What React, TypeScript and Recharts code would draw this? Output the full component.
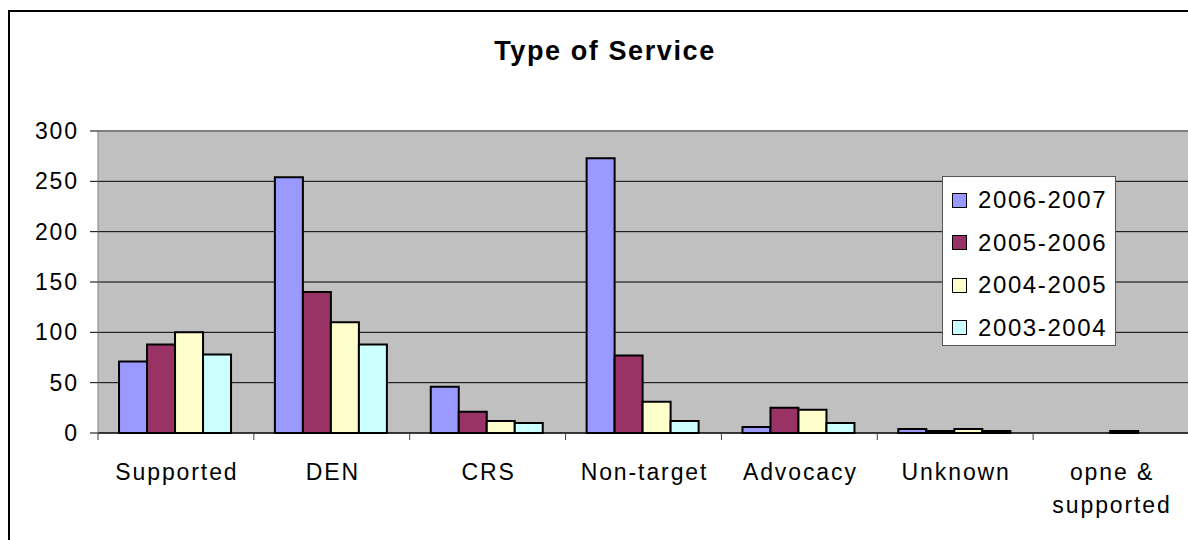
import React from "react";
import {
  BarChart,
  Bar,
  XAxis,
  YAxis,
  CartesianGrid,
  ReferenceLine,
} from "recharts";

const categories = ["Supported", "DEN", "CRS", "Non-target", "Advocacy", "Unknown", "opne & supported"];
const s2006 = [71, 254, 46, 273, 6, 4, 0];
const s2005 = [88, 140, 21, 77, 25, 2, 0];
const s2004 = [100, 110, 12, 31, 23, 4, 2];
const s2003 = [78, 88, 10, 12, 10, 2, 0];
const yTicks = [0, 50, 100, 150, 200, 250, 300];

const series = [
  { key: "y2006", name: "2006-2007", values: s2006, color: "#9999FF" },
  { key: "y2005", name: "2005-2006", values: s2005, color: "#993366" },
  { key: "y2004", name: "2004-2005", values: s2004, color: "#FFFFCC" },
  { key: "y2003", name: "2003-2004", values: s2003, color: "#CCFFFF" },
];

const data = categories.map((name, i) => {
  const row: Record<string, string | number> = { name };
  series.forEach((s) => (row[s.key] = s.values[i]));
  return row;
});

const FONT = "'Liberation Sans', Arial, sans-serif";
const LABEL_GAP = 31;

// label plus a tick mark on each category edge (Excel style)
function CategoryTick({ x, y, payload, index }: any) {
  const words = String(payload.value).split(" ");
  const lines: string[] = [];
  let cur = "";
  words.forEach((w) => {
    const next = cur ? cur + " " + w : w;
    if (next.length > 12 && cur) {
      lines.push(cur);
      cur = w;
    } else cur = next;
  });
  if (cur) lines.push(cur);
  const half = payload.offset || 0;
  const axisY = y - LABEL_GAP;
  return (
    <g>
      <line x1={x - half} x2={x - half} y1={axisY} y2={axisY + 7} stroke="#404040" />
      {index === categories.length - 1 && (
        <line x1={x + half} x2={x + half} y1={axisY} y2={axisY + 7} stroke="#404040" />
      )}
      <text x={x} y={y} textAnchor="middle" fill="#000" fontSize={23} fontFamily={FONT} letterSpacing={1.9}>
        {lines.map((l, i) => (
          <tspan key={i} x={x + 1} dy={i === 0 ? "0.71em" : 33}>
            {l}
          </tspan>
        ))}
      </text>
    </g>
  );
}

function LegendBox() {
  return (
    <div
      style={{
        position: "absolute",
        left: 942,
        top: 176,
        width: 172,
        height: 166,
        background: "#fff",
        border: "1px solid #555",
        fontFamily: FONT,
        fontSize: 24,
        letterSpacing: 1.6,
        paddingTop: 2,
      }}
    >
      {series.map((s) => (
        <div key={s.key} style={{ height: 42.5, display: "flex", alignItems: "center" }}>
          <span
            style={{
              display: "inline-block",
              width: 13,
              height: 13,
              marginLeft: 9,
              marginRight: 11,
              background: s.color,
              border: "1.5px solid #000",
            }}
          />
          <span style={{ color: "#000" }}>{s.name}</span>
        </div>
      ))}
    </div>
  );
}

export default function App() {
  return (
    <div style={{ position: "absolute", left: 0, top: 0, width: 1188, height: 540, overflow: "hidden", background: "#fff" }}>
      <div
        style={{
          position: "absolute",
          left: 8,
          top: 10,
          width: 1300,
          height: 700,
          border: "2px solid #000",
        }}
      />
      <div
        style={{
          position: "absolute",
          left: 0,
          top: 36,
          width: 1210,
          textAlign: "center",
          fontFamily: FONT,
          fontWeight: "bold",
          fontSize: 27,
          letterSpacing: 1.6,
        }}
      >
        Type of Service
      </div>
      <div style={{ position: "absolute", left: 0, top: 0 }}>
        <BarChart
          width={1189}
          height={540}
          data={data}
          margin={{ top: 131, right: 0, left: 0, bottom: 0 }}
          barCategoryGap="13.5%"
          barGap={0}
        >
          <CartesianGrid fill="#C0C0C0" stroke="#000" vertical={false} />
          <ReferenceLine y={300} stroke="#808080" strokeWidth={2} />
          <XAxis
            dataKey="name"
            height={107}
            tickSize={0}
            tickMargin={LABEL_GAP}
            tickLine={false}
            axisLine={{ stroke: "#000" }}
            interval={0}
            tick={<CategoryTick />}
          />
          <YAxis
            width={98}
            domain={[0, 300]}
            ticks={yTicks}
            interval={0}
            tickSize={8}
            tickMargin={11}
            tick={{ fill: "#000", fontSize: 23, fontFamily: FONT, letterSpacing: 1.9 }}
            tickLine={{ stroke: "#000" }}
            axisLine={{ stroke: "#808080" }}
          />
          {series.map((s) => (
            <Bar
              key={s.key}
              dataKey={s.key}
              name={s.name}
              fill={s.color}
              stroke="#000"
              strokeWidth={2}
              isAnimationActive={false}
            />
          ))}
        </BarChart>
      </div>
      <LegendBox />
    </div>
  );
}
